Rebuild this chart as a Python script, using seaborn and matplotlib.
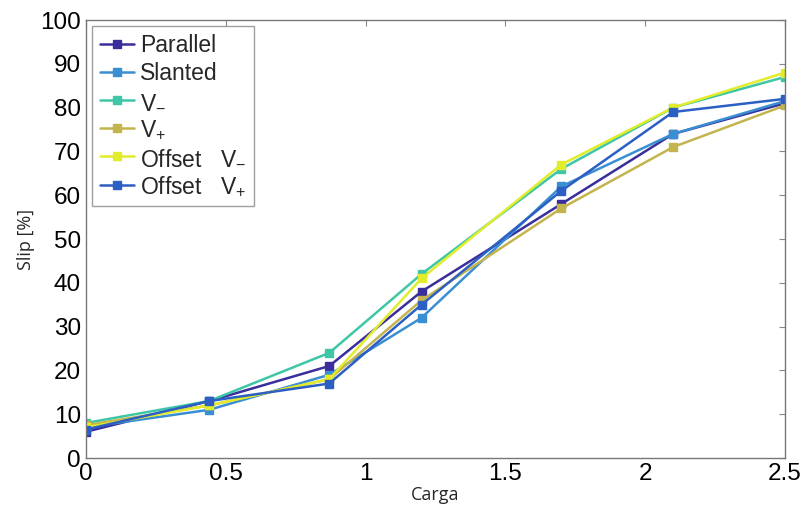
import matplotlib
matplotlib.use("Agg")
import matplotlib.pyplot as plt
import seaborn as sns
import pandas as pd

# Load vs. slip for six tread configurations
carga = [0, 0.44, 0.87, 1.2, 1.7, 2.1, 2.5]
parallel = [6, 13, 21, 38, 58, 74, 81]
slanted = [7, 11, 19, 32, 62, 74, 81.5]
v_minus = [8, 13, 24, 42, 66, 80, 87]
v_plus = [7.5, 12, 18, 36, 57, 71, 80.5]
offset_v_minus = [7, 12, 18, 41, 67, 80, 88]
offset_v_plus = [6.5, 13, 17, 35, 61, 79, 82]

labels = ["Parallel", "Slanted", r"V$_{-}$", r"V$_{+}$",
          r"Offset   V$_{-}$", r"Offset   V$_{+}$"]
series = [parallel, slanted, v_minus, v_plus, offset_v_minus, offset_v_plus]
colors = ["#3a2e9c", "#3a8ed2", "#3fc6a6", "#c4b44e", "#e2ec2a", "#2c5fc4"]

rows = []
for lab, vals in zip(labels, series):
    for x, y in zip(carga, vals):
        rows.append({"Carga": x, "Slip": y, "Config": lab})
df = pd.DataFrame(rows)

sns.set_style("white")
plt.rcParams["font.family"] = ["Liberation Sans", "DejaVu Sans"]
plt.rcParams["mathtext.fontset"] = "custom"
plt.rcParams["mathtext.rm"] = "Liberation Sans"
plt.rcParams["mathtext.it"] = "Liberation Sans"

fig = plt.figure(figsize=(8.02, 5.16), dpi=100)
ax = fig.add_axes([0.1072, 0.1124, 0.8716, 0.8488])

sns.lineplot(data=df, x="Carga", y="Slip", hue="Config", hue_order=labels,
             palette=colors, style="Config", style_order=labels,
             markers=["s"] * 6, dashes=False, markersize=5.5,
             linewidth=1.8, ax=ax)

# square markers drawn in the line colour
for ln in ax.get_lines():
    ln.set_markeredgecolor(ln.get_color())
    ln.set_markeredgewidth(1.0)

ax.set_xlim(0, 2.5)
ax.set_ylim(0, 100)
ax.set_xticks([0, 0.5, 1, 1.5, 2, 2.5])
ax.set_xticklabels(["0", "0.5", "1", "1.5", "2", "2.5"])
ax.set_yticks(range(0, 101, 10))
ax.tick_params(direction="in", length=4, width=0.8, labelsize=17.5,
               top=True, right=True, colors="#888888", labelcolor="black")
for s in ax.spines.values():
    s.set_color("#777777")
    s.set_linewidth(1.0)

ax.set_xlabel("Carga", fontsize=13, family=["Open Sans", "DejaVu Sans"],
              labelpad=1)
ax.set_ylabel("Slip [%]", fontsize=13, family=["Open Sans", "DejaVu Sans"],
              labelpad=4)

leg = ax.legend(loc="upper left", fontsize=16.5, frameon=True, fancybox=False,
                edgecolor="#888888", borderaxespad=0.25, handlelength=1.5,
                handletextpad=0.25, labelspacing=0.22, borderpad=0.35)
leg.get_frame().set_linewidth(1.0)
for h in leg.get_lines():
    h.set_markeredgecolor(h.get_color())

fig.savefig("out.png", dpi=100)
